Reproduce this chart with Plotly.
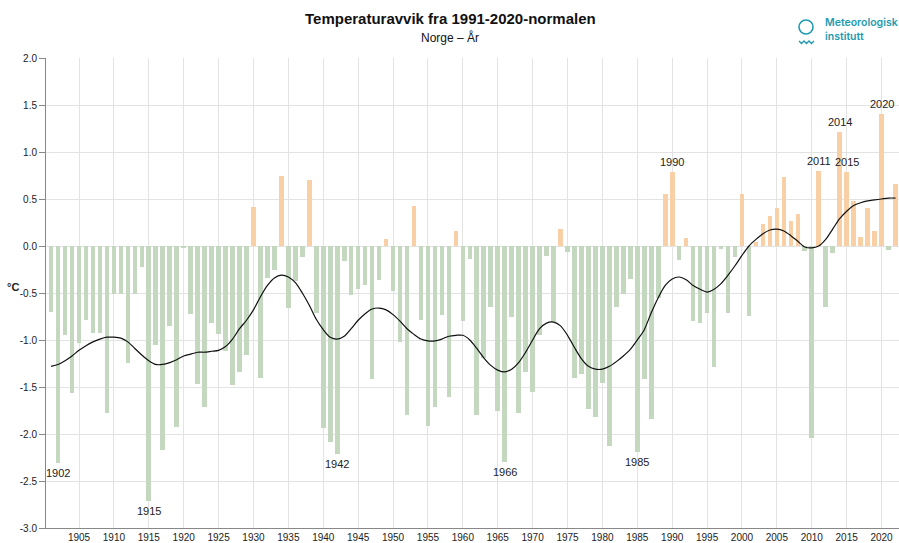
import plotly.graph_objects as go

years = list(range(1901, 2023))

anomaly = [
    -0.70, -2.31, -0.95, -1.56, -1.03, -0.79, -0.93, -0.93, -1.78, -0.51,  # 1901-1910
    -0.51, -1.24, -0.51, -0.22, -2.71, -1.05, -2.17, -0.85, -1.93, -0.02,  # 1911-1920
    -0.72, -1.47, -1.71, -0.82, -0.94, -1.12, -1.48, -1.34, -1.16, 0.41,   # 1921-1930
    -1.40, -0.34, -0.26, 0.745, -0.66, -0.37, -0.12, 0.70, -0.71, -1.94,   # 1931-1940
    -2.09, -2.21, -0.16, -0.52, -0.46, -0.41, -1.41, -0.36, 0.07, -0.48,   # 1941-1950
    -1.02, -1.80, 0.43, -0.79, -1.92, -1.71, -0.73, -1.61, 0.16, -0.80,    # 1951-1960
    -0.14, -1.80, -1.19, -0.65, -1.76, -2.30, -0.76, -1.78, -1.34, -1.55,  # 1961-1970
    -0.95, -0.11, -0.81, 0.18, -0.06, -1.40, -1.36, -1.73, -1.82, -1.46,   # 1971-1980
    -2.13, -0.65, -0.51, -0.35, -2.19, -1.41, -1.84, -0.55, 0.55, 0.79,    # 1981-1990
    -0.15, 0.08, -0.80, -0.82, -0.71, -1.29, -0.03, -0.71, -0.12, 0.55,    # 1991-2000
    -0.74, 0.04, 0.23, 0.32, 0.40, 0.73, 0.27, 0.34, -0.05, -2.04,         # 2001-2010
    0.80, -0.65, -0.07, 1.21, 0.79, 0.48, 0.10, 0.40, 0.16, 1.40,          # 2011-2020
    -0.04, 0.66,                                                            # 2021-2022
]

smoothed = [
    -1.28, -1.26, -1.22, -1.17, -1.11, -1.06, -1.02, -0.99, -0.97, -0.97,  # 1901-1910
    -0.98, -1.02, -1.09, -1.16, -1.22, -1.26, -1.26, -1.24, -1.21, -1.17,  # 1911-1920
    -1.15, -1.13, -1.13, -1.12, -1.11, -1.07, -0.99, -0.88, -0.79, -0.68,  # 1921-1930
    -0.54, -0.42, -0.34, -0.31, -0.33, -0.39, -0.50, -0.63, -0.78, -0.89,  # 1931-1940
    -0.97, -0.99, -0.96, -0.88, -0.79, -0.72, -0.67, -0.66, -0.68, -0.73,  # 1941-1950
    -0.80, -0.88, -0.94, -0.99, -1.01, -1.01, -0.99, -0.96, -0.95, -0.95,  # 1951-1960
    -1.00, -1.09, -1.19, -1.27, -1.32, -1.34, -1.31, -1.24, -1.13, -1.00,  # 1961-1970
    -0.88, -0.82, -0.81, -0.85, -0.95, -1.08, -1.20, -1.28, -1.31, -1.31,  # 1971-1980
    -1.28, -1.23, -1.17, -1.10, -1.00, -0.89, -0.71, -0.55, -0.42, -0.35,  # 1981-1990
    -0.33, -0.36, -0.42, -0.46, -0.49, -0.46, -0.40, -0.31, -0.21, -0.10,  # 1991-2000
    0.00, 0.07, 0.13, 0.17, 0.18, 0.16, 0.11, 0.05, -0.01, -0.02,          # 2001-2010
    0.00, 0.07, 0.18, 0.29, 0.37, 0.43, 0.46, 0.48, 0.49, 0.50,            # 2011-2020
    0.51, 0.51,                                                             # 2021-2022
]

label_years = [1902, 1915, 1942, 1966, 1985, 1990, 2011, 2014, 2015, 2020]

x_ticks = list(range(1905, 2021, 5))
y_ticks = [2.0, 1.5, 1.0, 0.5, 0.0, -0.5, -1.0, -1.5, -2.0, -2.5, -3.0]

title_text = "Temperaturavvik fra 1991-2020-normalen"
subtitle_text = "Norge \u2013 \u00c5r"
unit_text = "\u00b0C"

WARM = "#f9d0a6"
COLD = "#c3d8bf"
TEAL = "#1e9bb0"
FONT = "Liberation Sans, Arial, sans-serif"

W, H = 899, 543
ML, MR, MT, MB = 46, 0, 58, 15
PW, PH = W - ML - MR, H - MT - MB


def px(x):
    return (x - ML) / PW


def py(y):
    return (H - MB - y) / PH


colors = [WARM if v >= 0 else COLD for v in anomaly]

fig = go.Figure()
fig.add_trace(go.Bar(
    x=years, y=anomaly, marker=dict(color=colors, line=dict(width=0)),
    width=0.66, hoverinfo="x+y", showlegend=False,
))
fig.add_trace(go.Scatter(
    x=years, y=smoothed, mode="lines",
    line=dict(color="#111111", width=1.2, shape="spline", smoothing=0.8),
    hoverinfo="skip", showlegend=False,
))

val = dict(zip(years, anomaly))
for yr in label_years:
    v = val[yr]
    fig.add_annotation(
        x=yr, y=v, text=str(yr), showarrow=False,
        yanchor="bottom" if v >= 0 else "top",
        yshift=2 if v >= 0 else -2,
        font=dict(family=FONT, size=11, color="#222222"),
    )

fig.add_annotation(
    xref="paper", yref="paper", x=px(21), y=py(287),
    xanchor="right", yanchor="middle",
    text="<b>" + unit_text + "</b>", showarrow=False,
    font=dict(family=FONT, size=11, color="#222222"),
)

# Title and subtitle
fig.add_annotation(
    xref="paper", yref="paper", x=px(450), y=py(18),
    xanchor="center", yanchor="middle",
    text="<b>" + title_text + "</b>", showarrow=False,
    font=dict(family=FONT, size=15, color="#111111"),
)
fig.add_annotation(
    xref="paper", yref="paper", x=px(450), y=py(37),
    xanchor="center", yanchor="middle",
    text=subtitle_text, showarrow=False,
    font=dict(family=FONT, size=12, color="#111111"),
)

# Logo: circle, wave and name
fig.add_shape(
    type="circle", xref="paper", yref="paper",
    x0=px(799), x1=px(813), y0=py(34), y1=py(20),
    line=dict(color=TEAL, width=1.6),
)
wave_pts = [(799, 41), (801.5, 43.5), (804, 41), (806.5, 43.5), (809, 41), (811.5, 43.5), (814, 41)]
wave_path = "M " + " L ".join(f"{px(a):.5f},{py(b):.5f}" for a, b in wave_pts)
fig.add_shape(
    type="path", xref="paper", yref="paper", path=wave_path,
    line=dict(color=TEAL, width=1.3),
)
fig.add_annotation(
    xref="paper", yref="paper", x=px(823), y=py(30),
    xanchor="left", yanchor="middle",
    text="Meteorologisk<br>institutt", align="left", showarrow=False,
    font=dict(family="Inter, Noto Sans, sans-serif", size=10.5, color=TEAL, weight=600),
)

fig.update_layout(
    width=W, height=H,
    margin=dict(l=ML, r=MR, t=MT, b=MB),
    paper_bgcolor="white", plot_bgcolor="white",
    bargap=0, font=dict(family=FONT, size=10, color="#333333"),
    xaxis=dict(
        range=[1900.27, 2022.5], tickvals=x_ticks, ticktext=[str(t) for t in x_ticks],
        showgrid=True, gridcolor="#e3e3e3", gridwidth=1,
        showline=True, linecolor="#888888", linewidth=1,
        ticks="", tickfont=dict(size=10, color="#222222"), automargin=False,
        zeroline=False, fixedrange=True,
    ),
    yaxis=dict(
        range=[-3.0, 2.0], tickvals=y_ticks, ticktext=[f"{t:.1f}" for t in y_ticks],
        showgrid=True, gridcolor="#e3e3e3", gridwidth=1,
        showline=True, linecolor="#888888", linewidth=1,
        ticks="outside", ticklen=6, tickcolor="#888888",
        tickfont=dict(size=10, color="#222222"), automargin=False,
        zeroline=False, fixedrange=True,
    ),
)

fig.write_html(
    "out.html",
    config={"displayModeBar": False},
    post_script="document.body.style.margin='0';document.body.style.padding='0';",
)
